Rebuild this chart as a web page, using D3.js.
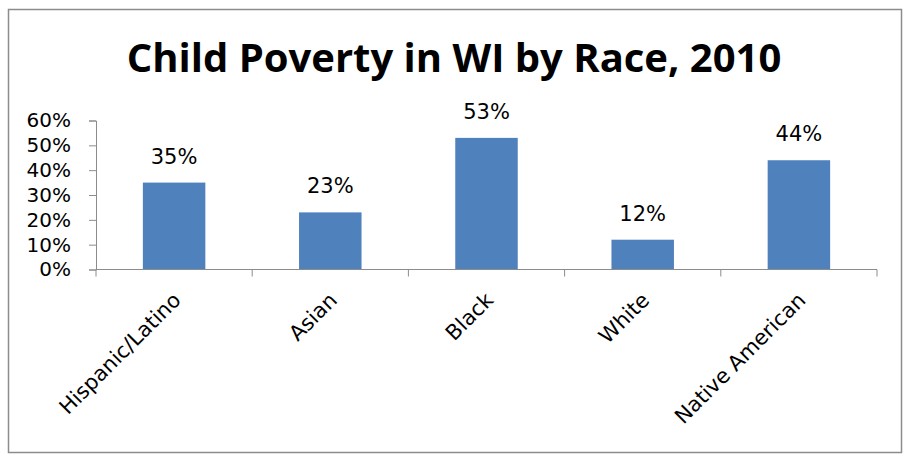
<!DOCTYPE html>
<html>
<head>
<meta charset="utf-8">
<script src="https://cdn.jsdelivr.net/npm/d3@7"></script>
<style>
  body { margin: 0; background: #fff; }
  text { font-family: "DejaVu Sans", sans-serif; fill: #000; }
  .title { font-family: "Open Sans", sans-serif; font-weight: bold; }
</style>
</head>
<body>
<svg id="chart"></svg>
<script>
// chart data
const categories = ["Hispanic/Latino", "Asian", "Black", "White", "Native American"];
const values = [0.35, 0.23, 0.53, 0.12, 0.44];
const yTicks = [0, 0.1, 0.2, 0.3, 0.4, 0.5, 0.6];
const title = "Child Poverty in WI by Race, 2010";

const W = 907, H = 455;
const margin = { top: 120.5, right: 30, bottom: 185.5, left: 96 };
const width = W - margin.left - margin.right;
const height = H - margin.top - margin.bottom;

const svg = d3.select("#chart")
	.attr("width", W)
	.attr("height", H);

// outer frame
svg.append("rect")
	.attr("x", 8.5).attr("y", 9.5)
	.attr("width", 893).attr("height", 443)
	.attr("fill", "#fff")
	.attr("stroke", "#8c8c8c")
	.attr("stroke-width", 1.5);

svg.append("text")
	.attr("class", "title")
	.attr("x", 454).attr("y", 72)
	.attr("text-anchor", "middle")
	.style("font-size", "40px")
	.text(title);

const g = svg.append("g")
	.attr("transform", `translate(${margin.left},${margin.top})`);

const x = d3.scaleBand()
	.domain(categories)
	.range([0, width])
	.padding(0);

const y = d3.scaleLinear()
	.domain([0, 0.6])
	.range([height, 0]);

// y axis
const yAxis = g.append("g")
	.call(d3.axisLeft(y).tickValues(yTicks).tickFormat(d3.format(".0%")).tickSize(7).tickPadding(18));
yAxis.attr("font-family", null).attr("font-size", null);
yAxis.select(".domain").attr("stroke", "#8c8c8c");
yAxis.selectAll(".tick line").attr("stroke", "#8c8c8c");
yAxis.selectAll("text").style("font-size", "20px");

// bars
const barW = x.bandwidth() * 0.4;
g.selectAll("rect.bar")
	.data(values)
	.enter().append("rect")
	.attr("class", "bar")
	.attr("x", (d, i) => x(categories[i]) + (x.bandwidth() - barW) / 2)
	.attr("y", d => y(d))
	.attr("width", barW)
	.attr("height", d => height - y(d))
	.attr("fill", "#4f81bd");

// data labels
g.selectAll("text.lbl")
	.data(values)
	.enter().append("text")
	.attr("class", "lbl")
	.attr("x", (d, i) => x(categories[i]) + x.bandwidth() / 2)
	.attr("y", d => y(d) - 19)
	.attr("text-anchor", "middle")
	.style("font-size", "21px")
	.text(d3.format(".0%"));

// x axis, ticks sit on the band edges
const xAxis = g.append("g")
	.attr("transform", `translate(0,${height})`);
xAxis.append("line")
	.attr("x1", 0).attr("x2", width)
	.attr("y1", 0).attr("y2", 0)
	.attr("stroke", "#8c8c8c");
const bounds = categories.map(c => x(c)).concat([width]);
xAxis.selectAll("line.tk")
	.data(bounds)
	.enter().append("line")
	.attr("class", "tk")
	.attr("x1", d => d).attr("x2", d => d)
	.attr("y1", 0).attr("y2", 7)
	.attr("stroke", "#8c8c8c");

xAxis.selectAll("text.cat")
	.data(categories)
	.enter().append("text")
	.attr("class", "cat")
	.attr("text-anchor", "end")
	.attr("transform", d => `translate(${x(d) + x.bandwidth() / 2 + 8},${32}) rotate(-45)`)
	.style("font-size", "21px")
	.text(d => d);
</script>
</body>
</html>
